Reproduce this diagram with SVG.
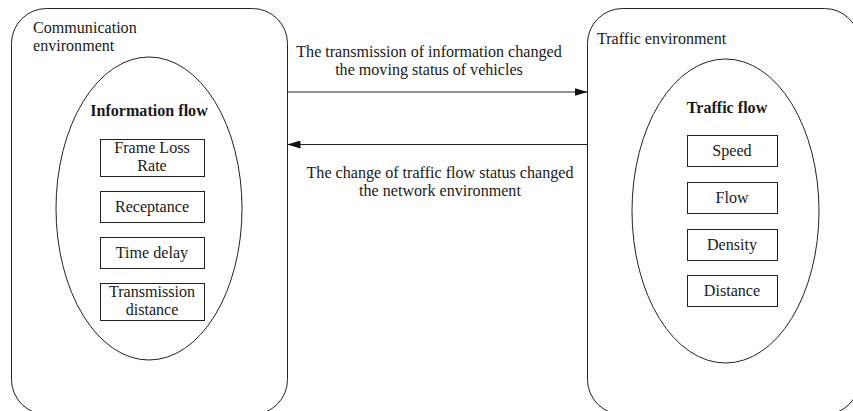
<svg xmlns="http://www.w3.org/2000/svg" width="853" height="411" viewBox="0 0 853 411">
<style>
text{font-family:"Liberation Serif","Times New Roman",serif;font-size:16.1px;fill:#1a1a1a}
.c{text-anchor:middle}
.b{font-weight:bold}
.env{fill:#fff;stroke:#222;stroke-width:1}
.ell{fill:#fff;stroke:#222;stroke-width:1}
.box{fill:#fff;stroke:#222;stroke-width:1}
.ln{stroke:#222;stroke-width:1;fill:none}
</style>
<defs>
<marker id="ah" viewBox="0 0 13 8" refX="13" refY="4" markerWidth="13" markerHeight="8" markerUnits="userSpaceOnUse" orient="auto">
<path d="M0,0 L13,4 L0,8 Z" fill="#111"/>
</marker>
</defs>
<rect width="853" height="411" fill="#fff"/>
<g id="comm-env">
<rect class="env" x="11.5" y="8.5" width="276" height="406" rx="35" ry="35"/>
<text x="33" y="33">Communication</text>
<text x="33" y="51">environment</text>
</g>
<g id="info-flow">
<ellipse class="ell" cx="149" cy="208.5" rx="93" ry="151.5"/>
<text class="c b" x="149" y="116">Information flow</text>
</g>
<g id="frame-loss">
<rect class="box" x="100.5" y="139.5" width="104" height="37"/>
<text class="c" x="152" y="153">Frame Loss</text>
<text class="c" x="152" y="171">Rate</text>
</g>
<g id="receptance">
<rect class="box" x="100.5" y="191.5" width="104" height="31"/>
<text class="c" x="152" y="212">Receptance</text>
</g>
<g id="time-delay">
<rect class="box" x="100.5" y="237.5" width="104" height="31"/>
<text class="c" x="152" y="258">Time delay</text>
</g>
<g id="trans-dist">
<rect class="box" x="100.5" y="283.5" width="104" height="37"/>
<text class="c" x="152" y="297">Transmission</text>
<text class="c" x="152" y="315">distance</text>
</g>
<g id="traffic-env">
<rect class="env" x="587.5" y="8.5" width="272" height="406" rx="35" ry="35"/>
<text x="597" y="44">Traffic environment</text>
</g>
<g id="traffic-flow">
<ellipse class="ell" cx="725.5" cy="211" rx="93.5" ry="152"/>
<text class="c b" x="727" y="113">Traffic flow</text>
</g>
<g id="speed">
<rect class="box" x="687.5" y="135.5" width="90" height="31"/>
<text class="c" x="732" y="156">Speed</text>
</g>
<g id="flow">
<rect class="box" x="687.5" y="182.5" width="90" height="31"/>
<text class="c" x="732" y="203">Flow</text>
</g>
<g id="density">
<rect class="box" x="687.5" y="229.5" width="90" height="31"/>
<text class="c" x="732" y="250">Density</text>
</g>
<g id="distance">
<rect class="box" x="687.5" y="275.5" width="90" height="31"/>
<text class="c" x="732" y="296">Distance</text>
</g>
<g id="connectors">
<line class="ln" x1="287.5" y1="92" x2="587.5" y2="92" marker-end="url(#ah)"/>
<line class="ln" x1="587.5" y1="144.5" x2="287.5" y2="144.5" marker-end="url(#ah)"/>
<text class="c" x="429" y="57">The transmission of information changed</text>
<text class="c" x="429" y="75">the moving status of vehicles</text>
<text class="c" x="440" y="178">The change of traffic flow status changed</text>
<text class="c" x="440" y="196">the network environment</text>
</g>
</svg>
